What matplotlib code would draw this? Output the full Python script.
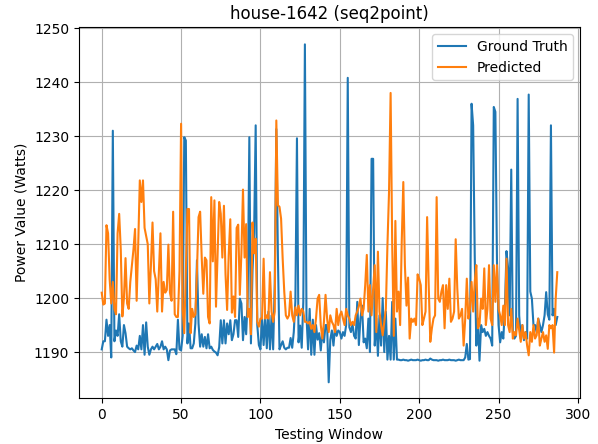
import matplotlib
matplotlib.use("Agg")
import matplotlib.pyplot as plt
import numpy as np

# ground truth readings, one per testing window
ground_truth = [
    1190.5, 1192, 1192, 1196, 1193, 1195, 1189, 1231, 1192, 1194,
    1193, 1197, 1192, 1191, 1195, 1193.5, 1191, 1190.7, 1190.5, 1190.7,
    1190.3, 1190, 1191.2, 1190.5, 1193, 1190.5, 1195, 1189.5, 1195.5, 1191,
    1189.5, 1190.5, 1191, 1190.5, 1191, 1191.5, 1190.5, 1191, 1192, 1190.5,
    1191, 1190.5, 1188.5, 1190.3, 1190.5, 1190.5,
    1190.5, 1189.6, 1196, 1190.5, 1190.3, 1193, 1229.8, 1229.2, 1191.6, 1195.3,
    1190.7, 1190.7, 1191.6, 1195.3, 1207, 1195.3, 1191, 1193.3, 1191, 1192.8,
    1190.7, 1193.3, 1190.7, 1191, 1190.4, 1190.1, 1189.9, 1189.4, 1190.9, 1195.9,
    1191.6, 1195.9, 1191.6, 1195.3, 1193.3, 1195.9, 1192.2, 1193.3, 1195.9, 1195.9,
    1192.8, 1199.9, 1199, 1192.2, 1196.5, 1193.3, 1200.2, 1229.8, 1191.6, 1205.1,
    1212,
    1232, 1195, 1191.3, 1190.5, 1196.2, 1191.3, 1196.8, 1190.7, 1197.5, 1190.5,
    1196.8, 1190.5, 1202.7, 1231.3, 1207.8, 1190.5, 1191.3, 1192, 1190.8, 1190.5,
    1190.8, 1190.8, 1192.6, 1190.8, 1193.7, 1199.4, 1229.6, 1191.8, 1194.9, 1190.8,
    1199.3, 1247, 1196.6, 1190.5, 1198, 1189.5, 1196, 1189.5, 1195, 1192.3,
    1193.5, 1190.3, 1194, 1191.8, 1195, 1195, 1184.4, 1192.3, 1194, 1191.2,
    1194.6, 1193, 1194, 1193.7,
    1192.5, 1193.7, 1193, 1195, 1240.8, 1194.6, 1193.7, 1195.2, 1193, 1192.5,
    1199.3, 1191.3, 1196.2, 1198.6, 1191.8, 1192.5, 1190.7, 1196.2, 1190, 1225.8,
    1225.8, 1191.2, 1196.2, 1189.3, 1196.8, 1191.2, 1200, 1190, 1197.5, 1188.6,
    1193, 1188.6, 1199.3, 1188.6, 1196.2, 1188.6,
    1188.6, 1188.5, 1188.5, 1188.6, 1188.5, 1188.5, 1188.4, 1188.5, 1188.6, 1188.5,
    1188.5, 1188.5, 1188.6, 1188.5, 1188.4, 1188.5, 1188.5, 1188.6, 1188.5, 1188.5,
    1188.8, 1188.6, 1188.5, 1188.5, 1188.5, 1188.4, 1188.5, 1188.5, 1188.6, 1188.5,
    1188.5, 1188.5, 1188.6, 1188.5, 1188.5, 1188.5, 1188.4, 1188.5, 1188.6, 1188.5,
    1188.5, 1188.5,
    1189, 1191.5, 1188.6, 1188.7, 1236, 1232, 1207.8, 1191.2, 1196.2, 1188.4,
    1195, 1193.7, 1194.3, 1193, 1193.7, 1193, 1192.5, 1191.2, 1235.4, 1234.5,
    1207, 1195, 1191.8, 1193.7, 1192.5, 1198.1, 1208.7, 1205.6, 1196.8, 1223.8,
    1193.7, 1192.5, 1193, 1236.9, 1196.8, 1192.5, 1195, 1192.2, 1193.7, 1192.5,
    1237.7, 1201.2, 1199.9, 1195, 1195, 1193.7, 1196.2, 1195, 1193.7, 1195,
    1196.8, 1201.1, 1197, 1196, 1232, 1196.8, 1198, 1195, 1196.5,
]

# seq2point predictions
predicted = [
    1201, 1198.8, 1199, 1213.5, 1212, 1203.5, 1199, 1203, 1198, 1197,
    1212, 1215.6, 1209, 1196.6, 1200, 1207.4, 1199, 1198, 1203, 1206,
    1209, 1212.8, 1199.5, 1210, 1221.8, 1217.8, 1221.8, 1213, 1211.5, 1210,
    1199, 1206, 1214, 1205, 1203.5, 1197.5, 1205, 1212, 1197.5, 1203,
    1201, 1201.5, 1209.9, 1201, 1199.5, 1216,
    1197, 1196.5, 1196.5, 1205, 1232.3, 1198, 1193.5, 1205, 1216.5, 1216.5,
    1193.5, 1198, 1196.5, 1197, 1205, 1215, 1216, 1207.5, 1200.8, 1207.5,
    1207, 1196.5, 1195.3, 1218.7, 1206.8, 1218.1, 1198.4, 1208.3, 1217.8, 1215.6,
    1207.5, 1217.1, 1204.4, 1197.8, 1208, 1214.6, 1197.3, 1200.3, 1196.5, 1213,
    1213.6, 1200.6, 1208.3, 1220.1, 1207.5, 1213.7, 1196.5, 1198, 1193.3, 1214,
    1208.3,
    1211, 1195.6, 1194.7, 1196.2, 1196.2, 1207.3, 1196.2, 1196.8, 1196.2, 1204.8,
    1197.5, 1195.6, 1197.5, 1232.9, 1217.2, 1216.9, 1214.7, 1207.3, 1201.2, 1196.8,
    1196.2, 1196.8, 1201.2, 1196.8, 1195.6, 1198.3, 1196.8, 1198.6, 1196.8, 1198,
    1197.5, 1195.6, 1195.6, 1195.3, 1195.6, 1194.3, 1195, 1193.7, 1196.2, 1199.9,
    1200.6, 1195, 1192.5, 1195.6, 1200.6, 1196.2, 1193.7, 1196.8, 1195.6, 1195,
    1193.7, 1198, 1195, 1196.8, 1197.5, 1196.2, 1195, 1198, 1196.8, 1196.2,
    1195, 1195.6, 1195, 1196.8, 1197.5, 1198.5, 1199.9, 1196.8, 1198, 1202.4,
    1208, 1197.5, 1202.4, 1196.8, 1201.8, 1206.1, 1193.7, 1208.6, 1197.5, 1195,
    1193.1, 1195.6, 1198, 1209.8, 1219.6, 1238, 1210, 1193, 1214.3, 1197.5,
    1201.2, 1195, 1210.4, 1221.5, 1206.1, 1198.6, 1203.8, 1192.5, 1196.2, 1195.6,
    1196.2, 1195, 1204.4,
    1203.6, 1202.4, 1195, 1196.2, 1197.5, 1215, 1202.4, 1191.9, 1194.4, 1196.2,
    1196.8, 1218.7, 1199.9, 1199.3, 1201.2, 1202.4, 1194.4, 1202.4, 1198, 1203.6,
    1195.6, 1196.2, 1197.5, 1210.9, 1201.8, 1196.2, 1196.8, 1198, 1191.2, 1196.2,
    1203.6, 1196.2, 1198, 1203, 1197.5, 1203, 1206.1, 1194.4, 1195, 1199.9,
    1198, 1205.5, 1195, 1198, 1206.1, 1196.2, 1195, 1206.1,
    1199.3, 1206.1, 1198, 1196.8, 1195, 1198.6, 1195, 1207.3, 1195, 1193.7,
    1198, 1192.5, 1193.7, 1193.1, 1196.2, 1194, 1191.9, 1195, 1192.5, 1193.7,
    1191.2, 1189.4, 1193.7, 1191.9, 1195, 1192.5, 1193.1, 1196.2, 1191.2, 1192.5,
    1193.7, 1191.9, 1193.1, 1190.6, 1195, 1194.4, 1195, 1189.9, 1199.9, 1204.8,
]

fig = plt.figure(figsize=(5.98, 4.44), dpi=100)
plt.plot(np.arange(len(ground_truth)), ground_truth, label="Ground Truth")
plt.plot(np.arange(len(predicted)), predicted, label="Predicted")
plt.title("house-1642 (seq2point)")
plt.xlabel("Testing Window")
plt.ylabel("Power Value (Watts)")
plt.ylim(1181.4, 1250.2)
plt.grid(True)
plt.legend(loc="upper right")
fig.subplots_adjust(left=0.132, right=0.970, bottom=0.1025, top=0.939)
plt.savefig("out.png", dpi=100)
